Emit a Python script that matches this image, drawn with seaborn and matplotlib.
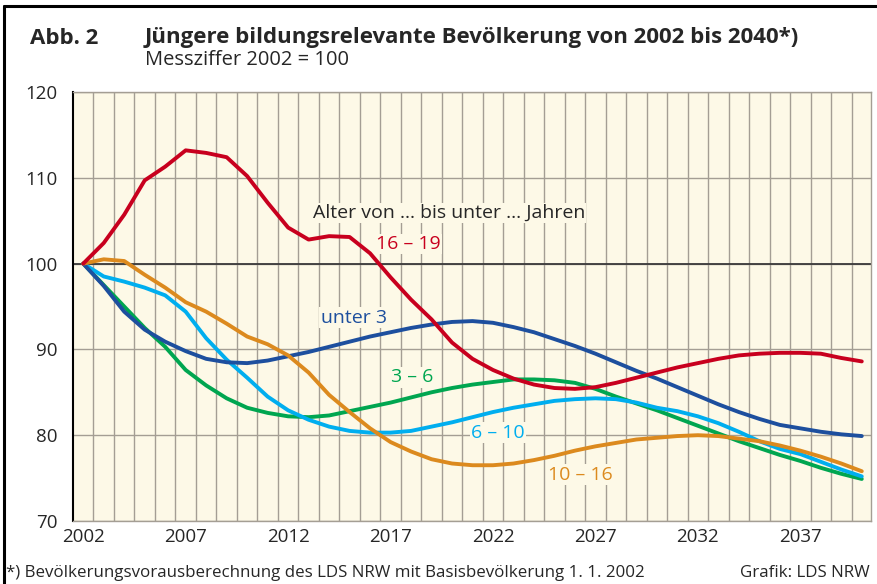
import matplotlib
matplotlib.use("Agg")
import matplotlib.pyplot as plt
import numpy as np
import pandas as pd
import seaborn as sns

# Messziffer 2002 = 100
years = list(range(2002, 2041))

age_16_19 = [100, 102.4, 105.7, 109.7, 111.3, 113.2, 112.9, 112.4, 110.2, 107.1,
             104.2, 102.8, 103.2, 103.1, 101.2, 98.4, 95.8, 93.5, 90.8, 88.9,
             87.6, 86.6, 85.9, 85.5, 85.4, 85.6, 86.1, 86.7, 87.3, 87.9,
             88.4, 88.9, 89.3, 89.5, 89.6, 89.6, 89.5, 89.0, 88.6]
under_3 = [100, 97.4, 94.4, 92.3, 90.9, 89.8, 88.9, 88.5, 88.4, 88.7,
           89.2, 89.7, 90.3, 90.9, 91.5, 92.0, 92.5, 92.9, 93.2, 93.3,
           93.1, 92.6, 92.0, 91.2, 90.4, 89.5, 88.5, 87.5, 86.6, 85.6,
           84.6, 83.6, 82.7, 81.9, 81.2, 80.8, 80.4, 80.1, 79.9]
age_3_6 = [100, 97.5, 95.0, 92.5, 90.3, 87.6, 85.8, 84.3, 83.2, 82.6,
           82.2, 82.1, 82.3, 82.8, 83.3, 83.8, 84.4, 85.0, 85.5, 85.9,
           86.2, 86.5, 86.5, 86.4, 86.1, 85.4, 84.5, 83.7, 82.9, 82.0,
           81.1, 80.2, 79.3, 78.5, 77.7, 77.0, 76.2, 75.5, 74.9]
age_6_10 = [100, 98.5, 97.9, 97.2, 96.3, 94.4, 91.3, 88.8, 86.7, 84.5,
            82.9, 81.8, 81.0, 80.5, 80.3, 80.3, 80.5, 81.0, 81.5, 82.1,
            82.7, 83.2, 83.6, 84.0, 84.2, 84.3, 84.2, 83.8, 83.2, 82.8,
            82.2, 81.4, 80.4, 79.3, 78.4, 77.8, 76.9, 76.0, 75.2]
age_10_16 = [100, 100.5, 100.3, 98.7, 97.2, 95.5, 94.4, 93.0, 91.5, 90.6,
             89.3, 87.3, 84.7, 82.7, 80.8, 79.2, 78.1, 77.2, 76.7, 76.5,
             76.5, 76.7, 77.1, 77.6, 78.2, 78.7, 79.1, 79.5, 79.7, 79.9,
             80.0, 79.9, 79.6, 79.3, 78.8, 78.2, 77.5, 76.7, 75.8]

groups = ["3 – 6", "6 – 10", "unter 3", "10 – 16", "16 – 19"]
series = [age_3_6, age_6_10, under_3, age_10_16, age_16_19]
colors = {"16 – 19": "#c8001e", "unter 3": "#1d4f9e", "3 – 6": "#00a650",
          "6 – 10": "#00aeef", "10 – 16": "#dc8a1e"}

df = pd.concat([pd.DataFrame({"Jahr": years, "Wert": s, "Alter": g})
                for g, s in zip(groups, series)])

bg = "#fdf9e7"
grid_col = "#a49e94"

sns.set_style("white")
plt.rcParams["font.family"] = ["Open Sans", "DejaVu Sans"]

fig = plt.figure(figsize=(8.77, 5.84), dpi=100)
ax = fig.add_axes([73 / 877, 1 - 521 / 584, (871 - 73) / 877, (521 - 92) / 584])
ax.set_facecolor(bg)

sns.lineplot(data=df, x="Jahr", y="Wert", hue="Alter", hue_order=groups,
             palette=colors, linewidth=2.8, legend=False, ax=ax, zorder=3)

ax.set_xlim(2001.5, 2040.45)
ax.set_ylim(70, 120)
ax.set_xticks(range(2002, 2041, 5))
ax.set_xticks(np.arange(2002.5, 2040, 1), minor=True)
ax.set_yticks([70, 80, 90, 100, 110, 120])
ax.grid(which="minor", axis="x", color=grid_col, lw=1)
ax.grid(which="major", axis="y", color=grid_col, lw=1)
ax.grid(which="major", axis="x", visible=False)
ax.axhline(100, color="#3a3a3a", lw=1.3, zorder=2)
ax.tick_params(axis="x", which="both", length=0, labelsize=13.5, pad=5)
ax.tick_params(axis="y", length=8, width=1.4, color="black", labelsize=13.5, pad=3)
ax.set_xlabel("")
ax.set_ylabel("")

ax.spines["left"].set_color("black")
ax.spines["left"].set_linewidth(1.5)
for side in ["top", "right", "bottom"]:
    ax.spines[side].set_color(grid_col)
    ax.spines[side].set_linewidth(1)

box = dict(facecolor=bg, edgecolor="none", pad=1)
ax.text(2013.2, 105.9, "Alter von … bis unter … Jahren", fontsize=14,
        ha="left", va="center", bbox=box, zorder=4)
ax.text(2017.85, 102.3, "16 – 19", color=colors["16 – 19"], fontsize=14,
        ha="center", va="center", bbox=box, zorder=4)
ax.text(2015.2, 93.7, "unter 3", color=colors["unter 3"], fontsize=14,
        ha="center", va="center", bbox=box, zorder=4)
ax.text(2018.05, 86.75, "3 – 6", color=colors["3 – 6"], fontsize=14,
        ha="center", va="center", bbox=box, zorder=4)
ax.text(2022.25, 80.3, "6 – 10", color=colors["6 – 10"], fontsize=14,
        ha="center", va="center", bbox=box, zorder=4)
ax.text(2026.25, 75.4, "10 – 16", color=colors["10 – 16"], fontsize=14,
        ha="center", va="center", bbox=box, zorder=4)

fig.text(30 / 877, 1 - 38 / 584, "Abb. 2", fontsize=16, weight="bold", va="center")
fig.text(145 / 877, 1 - 38 / 584,
         "Jüngere bildungsrelevante Bevölkerung von 2002 bis 2040*)",
         fontsize=16, weight="bold", va="center")
fig.text(145 / 877, 1 - 60 / 584, "Messziffer 2002 = 100", fontsize=14.5, va="center")
fig.text(6 / 877, 1 - 573 / 584,
         "*) Bevölkerungsvorausberechnung des LDS NRW mit Basisbevölkerung 1. 1. 2002",
         fontsize=12.2, va="center")
fig.text(870 / 877, 1 - 573 / 584, "Grafik: LDS NRW", fontsize=12.2,
         ha="right", va="center")

# frame lines of the original graphic (top and left)
fig.add_artist(plt.Line2D([4 / 877, 1], [1 - 6 / 584, 1 - 6 / 584],
                          transform=fig.transFigure, color="black", lw=2.2))
fig.add_artist(plt.Line2D([4 / 877, 4 / 877], [0, 1 - 6 / 584],
                          transform=fig.transFigure, color="black", lw=2.2))

fig.savefig("out.png", dpi=100, facecolor="white")
